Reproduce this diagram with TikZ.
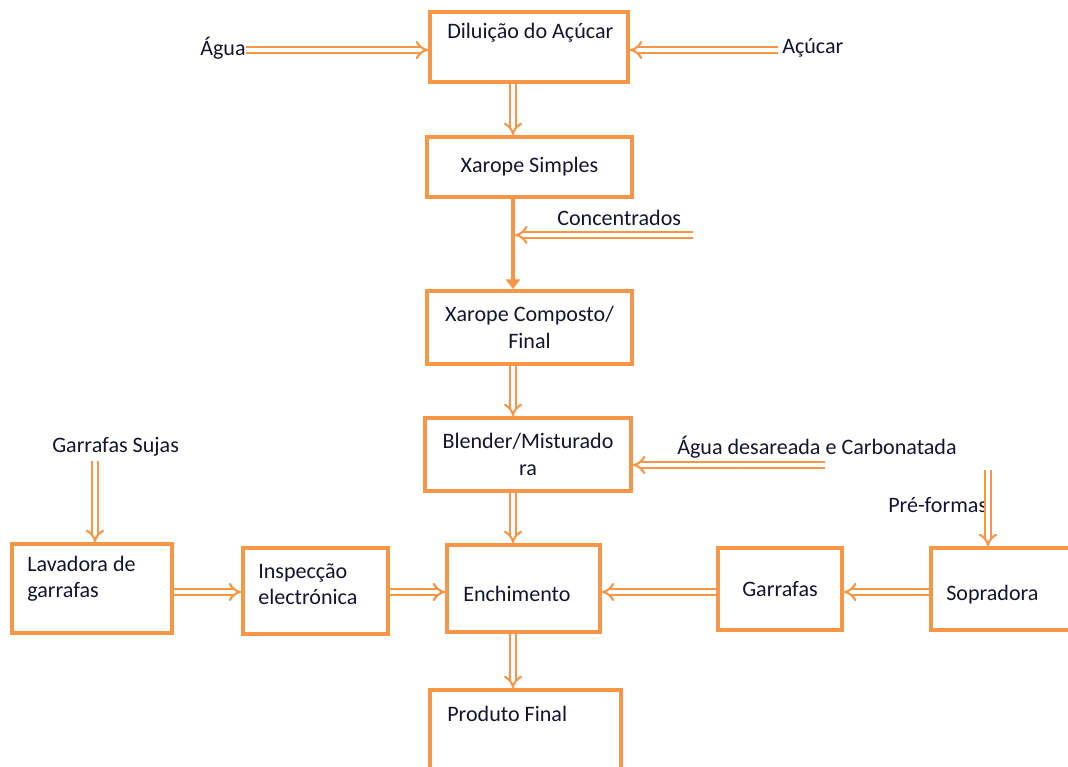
\documentclass[tikz,border=0pt]{standalone}
\usepackage{fontspec}
\setmainfont{Carlito}
\definecolor{FlowOrange}{RGB}{247,150,70}
\definecolor{InkNavy}{RGB}{20,20,48}
\usetikzlibrary{arrows.meta,positioning,calc}

\begin{document}
\begin{tikzpicture}[
    x=0.025cm, y=-0.025cm,
    every node/.style={font=\fontsize{15.7}{18.7}\selectfont, text=InkNavy, inner sep=0pt},
    box/.style={rectangle, draw=FlowOrange, line width=2.6pt},
    dbl/.style={draw=FlowOrange, line width=1.5pt, double=white, double distance=2.8pt, -{Implies}},
    solidarrow/.style={draw=FlowOrange, line width=2.8pt, -{Triangle[length=7pt,width=10pt]}}
  ]
    \useasboundingbox (0,0) rectangle (1068,767);
    \clip (0,0) rectangle (1068,767);

    % main line
    \node[box, minimum width=4.95cm, minimum height=1.75cm] (dil) at (529,47) {};
    \node[anchor=west] (diltxt) at (447,33) {Diluição do Açúcar};
    \node[box, minimum width=5.125cm, minimum height=1.5cm] (xs) at (529.5,167) {Xarope Simples};
    \node[box, minimum width=5.125cm, minimum height=1.825cm, align=center] (xc) at (529.5,327.5) {Xarope Composto/\\Final};
    \node[box, minimum width=5.15cm, minimum height=1.825cm, align=center] (blend) at (528,454.5) {Blender/Misturado\\ra};
    \node[box, minimum width=3.825cm, minimum height=2.175cm] (ench) at (523.5,588.5) {};
    \node[anchor=west] (enchtxt) at (463,594) {Enchimento};
    \node[box, minimum width=4.775cm, minimum height=3cm] (pf) at (525.5,750) {};
    \node[anchor=west] (pftxt) at (447,714) {Produto Final};

    % bottles
    \node[box, minimum width=4cm, minimum height=2.225cm] (lav) at (92,588.5) {};
    \node[anchor=west, align=left] (lavtxt) at (27,579) {Lavadora de\\garrafas};
    \node[box, minimum width=3.625cm, minimum height=2.15cm] (insp) at (315.5,591) {};
    \node[anchor=west, align=left] (insptxt) at (258,584) {Inspecção\\electrónica};
    \node[box, minimum width=3.1cm, minimum height=2.05cm] (garr) at (780,589) {Garrafas};
    \node[box, minimum width=4.2cm, minimum height=2.05cm] (sop) at (1015,589) {};
    \node[anchor=west] (soptxt) at (946,595) {Sopradora};

    % inputs
    \node[anchor=west] (agua) at (200,48) {Água};
    \node[anchor=west] (acucar) at (782,48) {Açúcar};
    \node[anchor=west] (conc) at (557,218) {Concentrados};
    \node[anchor=west] (agdes) at (677,447) {Água desareada e Carbonatada};
    \node[anchor=west] (sujas) at (52,447) {Garrafas Sujas};
    \node[anchor=west] (pref) at (888,505) {Pré-formas};

    \coordinate (spine) at (513,0);
    \coordinate (row) at (0,592);
    \coordinate (aguaTail) at (246,50);
    \coordinate (acucarTail) at (778,50);
    \coordinate (concTail) at (693,235);
    \coordinate (agdesTail) at (825,465);
    \coordinate (sujasTail) at (95,461);
    \coordinate (prefTail) at (988,470);

    \draw[dbl] (aguaTail) -- (aguaTail -| dil.west);
    \draw[dbl] (acucarTail) -- (acucarTail -| dil.east);
    \draw[dbl] (dil.south -| spine) -- (xs.north -| spine);
    \draw[solidarrow] (xs.south -| spine) -- (xc.north -| spine);
    \draw[dbl, shorten >=1.5pt] (concTail) -- (concTail -| spine);
    \draw[dbl] (xc.south -| spine) -- (blend.north -| spine);
    \draw[dbl] (agdesTail) -- (agdesTail -| blend.east);
    \draw[dbl] (blend.south -| spine) -- (ench.north -| spine);
    \draw[dbl] (ench.south -| spine) -- (pf.north -| spine);
    \draw[dbl] (sujasTail) -- (sujasTail |- lav.north);
    \draw[dbl] (lav.east |- row) -- (insp.west |- row);
    \draw[dbl] (insp.east |- row) -- (ench.west |- row);
    \draw[dbl] (garr.west |- row) -- (ench.east |- row);
    \draw[dbl] (sop.west |- row) -- (garr.east |- row);
    \draw[dbl] (prefTail) -- (prefTail |- sop.north);
  \end{tikzpicture}
\end{document}
